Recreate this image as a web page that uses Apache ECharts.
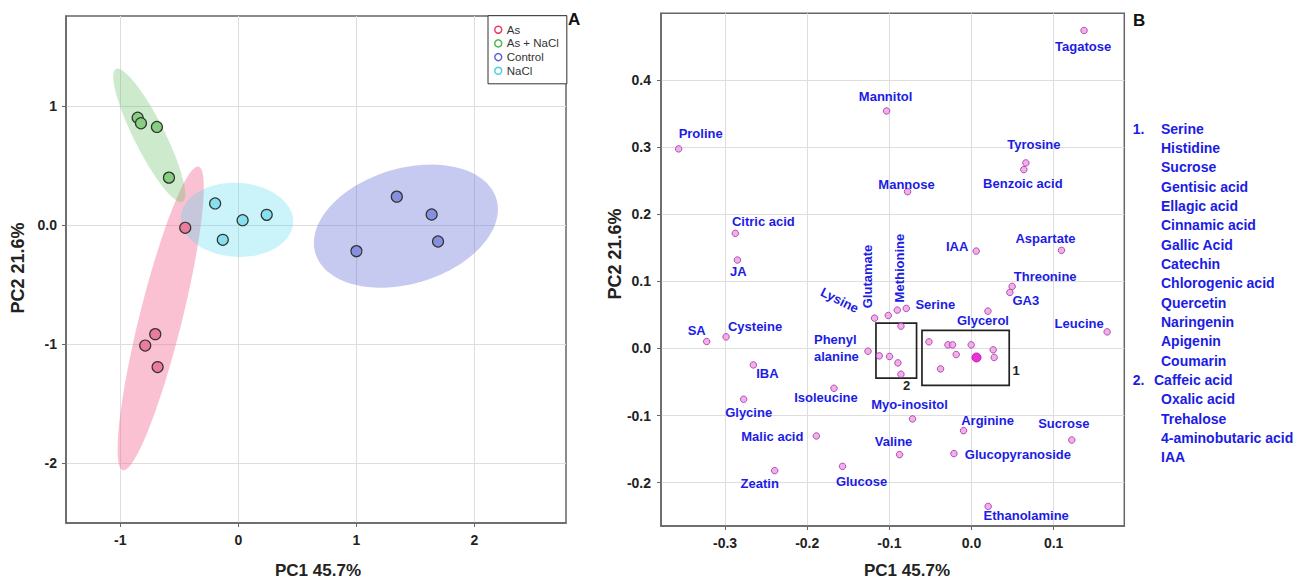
<!DOCTYPE html>
<html><head><meta charset="utf-8">
<script src="https://cdn.jsdelivr.net/npm/echarts@6/dist/echarts.min.js"></script>
<style>html,body{margin:0;padding:0;background:#fff}#c{width:1311px;height:581px}</style>
</head><body><div id="c"></div>
<script>
// ---------- Panel A : scores ----------
const groupNames = ['As', 'As + NaCl', 'Control', 'NaCl'];
const asX = [-0.45, -0.704, -0.789, -0.684];
const asY = [-0.022, -0.916, -1.012, -1.193];
const asNaclX = [-0.853, -0.825, -0.69, -0.588];
const asNaclY = [0.904, 0.857, 0.826, 0.40];
const controlX = [1.342, 1.637, 1.691, 1.0];
const controlY = [0.24, 0.09, -0.137, -0.218];
const naclX = [-0.197, -0.132, 0.036, 0.24];
const naclY = [0.183, -0.123, 0.042, 0.087];
// confidence ellipses (centre, semi-axes, angle in degrees)
const ellipseCx = [-0.658, -0.755, 1.419, -0.011];
const ellipseCy = [-0.784, 0.755, -0.008, 0.045];
const ellipseMajor = [1.316, 0.625, 0.80, 0.476];
const ellipseMinor = [0.18, 0.13, 0.485, 0.311];
const ellipseAngle = [75.9, -63.2, 16.5, -3];
const aXTicks = [-1, 0, 1, 2];
const aYTicks = [-2, -1, 0, 1];

// ---------- Panel B : loadings ----------
const metNames = ['Tagatose','Mannitol','Proline','Tyrosine','Benzoic acid','Mannose','Citric acid','JA','IAA','Aspartate',
  'Threonine','GA3','Leucine','SA','Cysteine','IBA','Glycine','Malic acid','Zeatin','Glucose','Isoleucine','Myo-inositol',
  'Valine','Arginine','Glucopyranoside','Sucrose','Ethanolamine','Glycerol','Serine','Lysine','Glutamate','Methionine','Phenyl\nalanine'];
const metX = [0.137,-0.1034,-0.3565,0.0662,0.0637,-0.0779,-0.2875,-0.285,0.0057,0.1095,
  0.0495,0.0467,0.1651,-0.3224,-0.2988,-0.2656,-0.2774,-0.1889,-0.2396,-0.157,-0.1674,-0.0718,
  -0.0876,-0.0097,-0.0214,0.1221,0.0203,0.02,-0.0794,-0.118,-0.1013,-0.0904,-0.126];
const metY = [0.474,0.354,0.2975,0.2766,0.2666,0.2337,0.1716,0.1318,0.1452,0.1463,
  0.0925,0.0836,0.0248,0.0104,0.0173,-0.0245,-0.0757,-0.1304,-0.1821,-0.1757,-0.0593,-0.105,
  -0.1582,-0.1224,-0.1567,-0.1364,-0.2354,0.0557,0.0597,0.0452,0.0492,0.0572,-0.004];
const cluster1X = [-0.0518,-0.0287,-0.0231,-0.0004,-0.0186,-0.0377,0.0264,0.0276];
const cluster1Y = [0.0099,0.0054,0.0054,0.0054,-0.009,-0.0304,-0.002,-0.0134];
const cluster2X = [-0.0859,-0.1123,-0.0998,-0.0896,-0.0859];
const cluster2Y = [0.0333,-0.011,-0.0119,-0.0215,-0.0384];
const highlightX = [0.0061];
const highlightY = [-0.0134];
const boxX0 = [-0.0603, -0.1163];
const boxX1 = [0.0459, -0.0669];
const boxY0 = [-0.0549, -0.0443];
const boxY1 = [0.0269, 0.0378];
const boxTags = ['1', '2'];
const bXTicks = [-0.3, -0.2, -0.1, 0, 0.1];
const bYTicks = [-0.2, -0.1, 0, 0.1, 0.2, 0.3, 0.4];
const list1 = ['Serine','Histidine','Sucrose','Gentisic acid','Ellagic acid','Cinnamic acid','Gallic Acid','Catechin',
  'Chlorogenic acid','Quercetin','Naringenin','Apigenin','Coumarin'];
const list2 = ['Caffeic acid','Oxalic acid','Trehalose','4-aminobutaric acid','IAA'];

// ---------- styling / layout (not data) ----------
const FONT = '"Liberation Sans", Arial, Helvetica, sans-serif';
const BLUE = '#1c1ce4';
const fillColors = ['#EA7C9C', '#86CE80', '#8591DF', '#86E0EE'];
const ringColors = ['#E8406A', '#4FB84F', '#5A66D0', '#4FD0E6'];
const ellipseFill = ['rgba(240,100,140,0.40)', 'rgba(100,190,100,0.32)', 'rgba(90,100,210,0.34)', 'rgba(80,215,240,0.30)'];
const labelLayout = {
  'Tagatose':[-1,16],'Mannitol':[-1,-14],'Proline':[22,-15],'Tyrosine':[8,-18],'Benzoic acid':[-1,14],
  'Mannose':[-1,-7],'Citric acid':[28,-12],'JA':[1,11],'IAA':[-19,-5],'Aspartate':[-16,-12],
  'Threonine':[33,-10],'GA3':[16,8],'Leucine':[-28,-8],'SA':[-10,-11],'Cysteine':[29,-10],
  'IBA':[14,9],'Glycine':[5,13],'Malic acid':[-44,1],'Zeatin':[-15,13],'Glucose':[19,15],
  'Isoleucine':[-8,9],'Myo-inositol':[-3,-14],'Valine':[-6,-13],'Arginine':[24,-10],
  'Glucopyranoside':[64,1],'Sucrose':[-8,-16],'Ethanolamine':[38,9],'Glycerol':[-5,9],'Serine':[29,-4],
  'Lysine':[-35,-18,-27],'Glutamate':[-21,-39,90],'Methionine':[2,-42,90],'Phenyl\nalanine':[-54,-3,0,'left']
};
const boxTagOffset = [[7,-15],[-10,7.5]];

const zip = (xs, ys) => xs.map((x, i) => [x, ys[i]]);
const groupX = [asX, asNaclX, controlX, naclX];
const groupY = [asY, asNaclY, controlY, naclY];

function axisCommon(ticks, fmt, margin) {
  return {
    type: 'value',
    axisLine: { show: true, onZero: false, lineStyle: { color: '#666', width: 1.5 } },
    axisTick: { show: true, length: 4, customValues: ticks, lineStyle: { color: '#666', width: 1 } },
    axisLabel: { customValues: ticks, formatter: fmt, margin: margin, color: '#222', fontWeight: 'bold', fontSize: 14, fontFamily: FONT },
    splitLine: { show: true, lineStyle: { color: '#dedede', width: 1 } }
  };
}

const series = [];
// ellipses
groupNames.forEach((g, i) => {
  series.push({
    type: 'custom', xAxisIndex: 0, yAxisIndex: 0, z: 1, silent: true,
    data: [[ellipseCx[i], ellipseCy[i], ellipseMajor[i], ellipseMinor[i], ellipseAngle[i]]],
    renderItem: (params, api) => {
      const cx = api.value(0), cy = api.value(1), a = api.value(2), b = api.value(3), ang = api.value(4) * Math.PI / 180;
      const pts = [];
      for (let k = 0; k < 120; k++) {
        const t = 2 * Math.PI * k / 120;
        const ex = a * Math.cos(t), ey = b * Math.sin(t);
        pts.push(api.coord([cx + ex * Math.cos(ang) - ey * Math.sin(ang), cy + ex * Math.sin(ang) + ey * Math.cos(ang)]));
      }
      return { type: 'polygon', shape: { points: pts }, style: { fill: ellipseFill[i], stroke: null } };
    }
  });
});
// score points
groupNames.forEach((g, i) => {
  series.push({
    name: g, type: 'scatter', xAxisIndex: 0, yAxisIndex: 0, z: 3,
    data: zip(groupX[i], groupY[i]), symbolSize: 11,
    itemStyle: { color: fillColors[i], borderColor: '#333', borderWidth: 1.2, opacity: 1 }
  });
});
// loadings points
const ptStyle = { color: '#EE9BE6', borderColor: '#A0309F', borderWidth: 1 };
series.push({ type: 'scatter', xAxisIndex: 1, yAxisIndex: 1, z: 3, symbolSize: 6.5, itemStyle: ptStyle, data: zip(metX, metY) });
series.push({ type: 'scatter', xAxisIndex: 1, yAxisIndex: 1, z: 3, symbolSize: 6.5, itemStyle: ptStyle, data: zip(cluster1X, cluster1Y) });
series.push({ type: 'scatter', xAxisIndex: 1, yAxisIndex: 1, z: 3, symbolSize: 6.5, itemStyle: ptStyle, data: zip(cluster2X, cluster2Y) });
series.push({ type: 'scatter', xAxisIndex: 1, yAxisIndex: 1, z: 4, symbolSize: 9, itemStyle: { color: '#E200C6', borderColor: '#C000A8', borderWidth: 1 }, data: zip(highlightX, highlightY) });
// loadings labels
series.push({
  type: 'custom', xAxisIndex: 1, yAxisIndex: 1, z: 5, silent: true,
  data: zip(metX, metY),
  renderItem: (params, api) => {
    const p = api.coord([api.value(0), api.value(1)]);
    const name = metNames[params.dataIndex];
    const lay = labelLayout[name] || [0, 0];
    const align = lay[3] || 'center';
    return {
      type: 'text', x: p[0] + lay[0], y: p[1] + lay[1], rotation: (lay[2] || 0) * Math.PI / 180,
      style: { text: name, fill: BLUE, font: 'bold 13px ' + FONT, textAlign: align, textVerticalAlign: 'middle', align: align, verticalAlign: 'middle', lineHeight: 17 }
    };
  }
});
// boxes
series.push({
  type: 'custom', xAxisIndex: 1, yAxisIndex: 1, z: 2, silent: true,
  data: boxX0.map((x, i) => [x, boxY0[i], boxX1[i], boxY1[i]]),
  renderItem: (params, api) => {
    const p0 = api.coord([api.value(0), api.value(1)]);
    const p1 = api.coord([api.value(2), api.value(3)]);
    const x = Math.min(p0[0], p1[0]), y = Math.min(p0[1], p1[1]);
    const w = Math.abs(p1[0] - p0[0]), h = Math.abs(p1[1] - p0[1]);
    const off = boxTagOffset[params.dataIndex];
    return {
      type: 'group', children: [
        { type: 'rect', shape: { x: x, y: y, width: w, height: h }, style: { fill: 'none', stroke: '#222', lineWidth: 1.7 } },
        { type: 'text', x: x + w + off[0], y: y + h + off[1], style: { text: boxTags[params.dataIndex], fill: '#222', font: 'bold 13px ' + FONT, textAlign: 'center', textVerticalAlign: 'middle', align: 'center', verticalAlign: 'middle' } }
      ]
    };
  }
});

// graphics: titles, panel letters, list
const graphics = [];
const txt = (x, y, text, font, fill, align, rot) => ({
  type: 'text', x: x, y: y, rotation: rot || 0, silent: true,
  style: { text: text, font: font, fill: fill, textAlign: align || 'center', textVerticalAlign: 'middle', align: align || 'center', verticalAlign: 'middle' }
});
graphics.push(txt(318, 570, 'PC1 45.7%', 'bold 17px ' + FONT, '#222'));
graphics.push(txt(17.5, 268, 'PC2 21.6%', 'bold 18px ' + FONT, '#222', 'center', Math.PI / 2));
graphics.push(txt(907, 570, 'PC1 45.7%', 'bold 17px ' + FONT, '#222'));
graphics.push(txt(615, 254, 'PC2 21.6%', 'bold 18px ' + FONT, '#222', 'center', Math.PI / 2));
graphics.push(txt(568, 19.5, 'A', 'bold 17px ' + FONT, '#111', 'left'));
graphics.push(txt(1133, 20, 'B', 'bold 17px ' + FONT, '#111', 'left'));
const LF = 'bold 14px ' + FONT;
graphics.push(txt(1132.7, 128.7, '1.', LF, BLUE, 'left'));
list1.forEach((n, i) => graphics.push(txt(1161, 128.7 + i * 19.33, n, LF, BLUE, 'left')));
const y2 = 128.7 + list1.length * 19.33;
graphics.push(txt(1132.7, y2, '2.', LF, BLUE, 'left'));
list2.forEach((n, i) => graphics.push(txt(i === 0 ? 1154 : 1161, y2 + i * 19.33, n, LF, BLUE, 'left')));

const option = {
  animation: false,
  backgroundColor: '#fff',
  grid: [
    { left: 66, top: 16, width: 500, height: 507, show: true, borderColor: '#666', borderWidth: 1.5, backgroundColor: 'transparent' },
    { left: 661, top: 13.3, width: 463.3, height: 512.7, show: true, borderColor: '#666', borderWidth: 1.5, backgroundColor: 'transparent' }
  ],
  xAxis: [
    Object.assign(axisCommon(aXTicks, v => String(v), 10), { gridIndex: 0, min: -1.46, max: 2.775 }),
    Object.assign(axisCommon(bXTicks, v => v.toFixed(1), 10), { gridIndex: 1, min: -0.378, max: 0.186 })
  ],
  yAxis: [
    Object.assign(axisCommon(aYTicks, v => (v === 0 ? '0.0' : String(v)), 9), { gridIndex: 0, min: -2.504, max: 1.759 }),
    Object.assign(axisCommon(bYTicks, v => v.toFixed(1), 10), { gridIndex: 1, min: -0.2646, max: 0.4996 })
  ],
  legend: {
    orient: 'vertical', left: 488, top: 15.7, icon: 'circle',
    itemWidth: 7, itemHeight: 7, itemGap: 1.7,
    padding: [8, 8, 7, 6],
    borderColor: '#333', borderWidth: 1, backgroundColor: '#fff',
    textStyle: { fontSize: 11.5, fontFamily: FONT, color: '#333', lineHeight: 12 },
    selectedMode: false,
    data: groupNames.map((g, i) => ({ name: g, itemStyle: { color: '#fff', borderColor: ringColors[i], borderWidth: 1.5 } }))
  },
  graphic: graphics,
  series: series
};
const chart = echarts.init(document.getElementById('c'), null, { renderer: 'svg' });
chart.setOption(option);
</script></body></html>
